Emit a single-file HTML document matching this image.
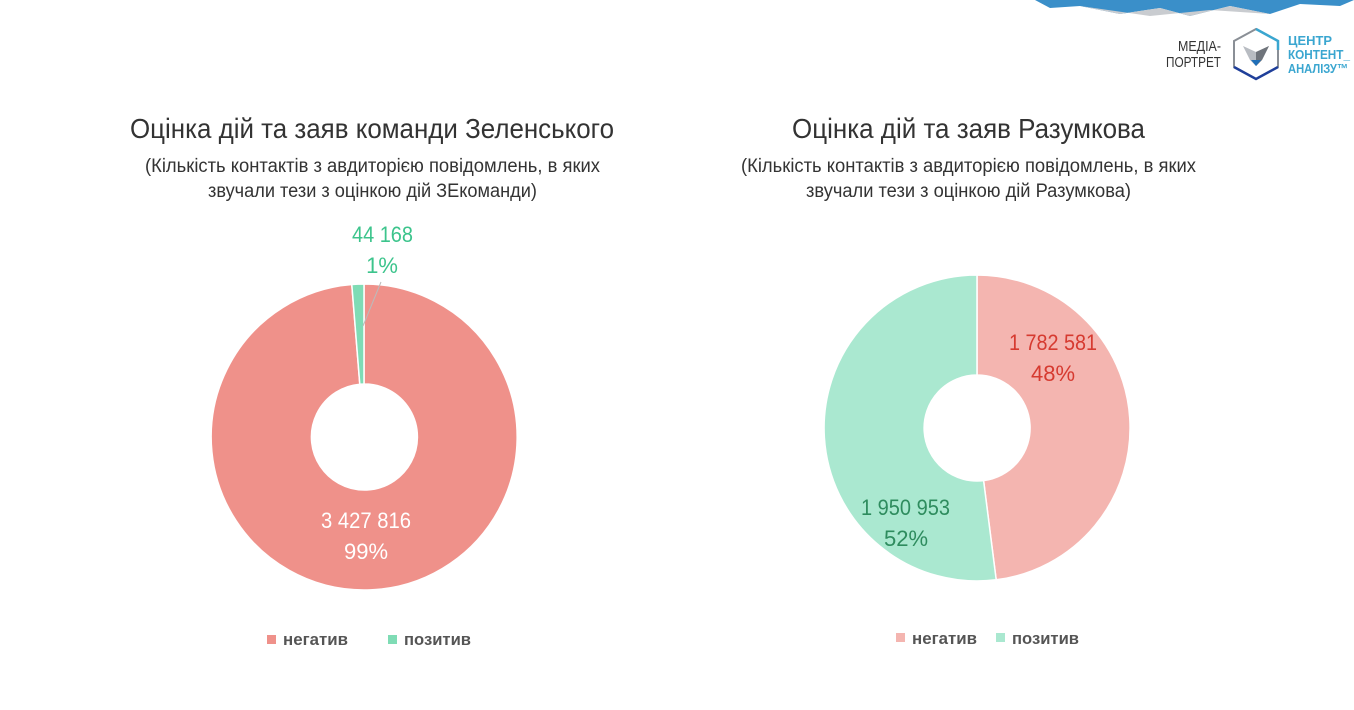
<!DOCTYPE html><html><head><meta charset="utf-8"><style>
body{margin:0;width:1354px;height:705px;background:#fff;overflow:hidden;}
</style></head><body>
<svg width="1354" height="705" xmlns="http://www.w3.org/2000/svg" style="font-family:'Liberation Sans',sans-serif">
<polygon points="1035,0 1354,0 1340,6 1300,4 1270,14 1230,6 1190,16 1160,8 1120,14 1080,6 1050,8" fill="#3a8fc9"/>
<polygon points="1080,6 1120,14 1160,8 1190,16 1230,6 1270,14 1210,10 1150,16" fill="#c9ccd0"/>
<text x="1178" y="51" font-size="15" fill="#333" textLength="43" lengthAdjust="spacingAndGlyphs">МЕДІА-</text>
<text x="1166" y="67" font-size="15" fill="#333" textLength="55" lengthAdjust="spacingAndGlyphs">ПОРТРЕТ</text>
<polygon points="1256,29 1278,41 1278,67 1256,79 1234,67 1234,41" fill="none" stroke="#8a8f96" stroke-width="2"/>
<polyline points="1234,67 1256,79 1278,67" fill="none" stroke="#1f3f9a" stroke-width="2.5"/>
<polyline points="1256,29 1278,41 1278,50" fill="none" stroke="#3aa6d0" stroke-width="2.5"/>
<polygon points="1243,46 1256,52 1269,46 1262,60 1256,66 1250,60" fill="#b8bcc2"/>
<polygon points="1256,52 1269,46 1262,60 1256,66" fill="#6f747b"/>
<polygon points="1251,60 1256,66 1261,60" fill="#1f6fb8"/>
<text x="1288" y="45" font-size="13" font-weight="bold" fill="#3aa6d0" textLength="44" lengthAdjust="spacingAndGlyphs">ЦЕНТР</text>
<text x="1288" y="59" font-size="13" font-weight="bold" fill="#3aa6d0" textLength="62" lengthAdjust="spacingAndGlyphs">КОНТЕНТ_</text>
<text x="1288" y="73" font-size="13" font-weight="bold" fill="#3aa6d0" textLength="60" lengthAdjust="spacingAndGlyphs">АНАЛІЗУ™</text>
<g fill="#333">
<text x="130" y="138" font-size="28" textLength="484" lengthAdjust="spacingAndGlyphs">Оцінка дій та заяв команди Зеленського</text>
<text x="145" y="172" font-size="19" textLength="455" lengthAdjust="spacingAndGlyphs">(Кількість контактів з авдиторією повідомлень, в яких</text>
<text x="208" y="197" font-size="19" textLength="329" lengthAdjust="spacingAndGlyphs">звучали тези з оцінкою дій ЗЕкоманди)</text>
<text x="792" y="138" font-size="28" textLength="353" lengthAdjust="spacingAndGlyphs">Оцінка дій та заяв Разумкова</text>
<text x="741" y="172" font-size="19" textLength="455" lengthAdjust="spacingAndGlyphs">(Кількість контактів з авдиторією повідомлень, в яких</text>
<text x="806" y="197" font-size="19" textLength="325" lengthAdjust="spacingAndGlyphs">звучали тези з оцінкою дій Разумкова)</text>
</g>
<path d="M364,284 A153,153 0 1,1 351.8,284.5 L359.8,384.2 A53,53 0 1,0 364,384 Z" fill="#ef918a" stroke="#fff" stroke-width="1.5"/>
<path d="M351.8,284.5 A153,153 0 0,1 364,284 L364,384 A53,53 0 0,0 359.8,384.2 Z" fill="#7fdcb5" stroke="#fff" stroke-width="1.5"/>
<line x1="381" y1="282" x2="363" y2="326" stroke="#bbb" stroke-width="1"/>
<text x="352" y="242" font-size="22" fill="#3cc48c" textLength="61" lengthAdjust="spacingAndGlyphs">44 168</text>
<text x="382" y="273" font-size="22" fill="#3cc48c" text-anchor="middle">1%</text>
<text x="321" y="528" font-size="22" fill="#fff" textLength="90" lengthAdjust="spacingAndGlyphs">3 427 816</text>
<text x="366" y="559" font-size="22" fill="#fff" text-anchor="middle">99%</text>
<path d="M977,275 A153,153 0 0,1 996.2,579.8 L983.6,480.6 A53,53 0 0,0 977,375 Z" fill="#f4b5b0" stroke="#fff" stroke-width="1.5"/>
<path d="M996.2,579.8 A153,153 0 1,1 977,275 L977,375 A53,53 0 1,0 983.6,480.6 Z" fill="#aae8d0" stroke="#fff" stroke-width="1.5"/>
<text x="1009" y="350" font-size="22" fill="#d63a30" textLength="88" lengthAdjust="spacingAndGlyphs">1 782 581</text>
<text x="1053" y="381" font-size="22" fill="#d63a30" text-anchor="middle">48%</text>
<text x="861" y="515" font-size="22" fill="#2e8c5e" textLength="89" lengthAdjust="spacingAndGlyphs">1 950 953</text>
<text x="906" y="546" font-size="22" fill="#2e8c5e" text-anchor="middle">52%</text>
<rect x="267" y="635" width="9" height="9" fill="#ef918a"/>
<text x="283" y="645" font-size="17" font-weight="bold" fill="#555" textLength="65" lengthAdjust="spacingAndGlyphs">негатив</text>
<rect x="388" y="635" width="9" height="9" fill="#7fdcb5"/>
<text x="404" y="645" font-size="17" font-weight="bold" fill="#555" textLength="67" lengthAdjust="spacingAndGlyphs">позитив</text>
<rect x="896" y="633" width="9" height="9" fill="#f4b5b0"/>
<text x="912" y="644" font-size="17" font-weight="bold" fill="#555" textLength="65" lengthAdjust="spacingAndGlyphs">негатив</text>
<rect x="996" y="633" width="9" height="9" fill="#aae8d0"/>
<text x="1012" y="644" font-size="17" font-weight="bold" fill="#555" textLength="67" lengthAdjust="spacingAndGlyphs">позитив</text>
</svg>
</body></html>
